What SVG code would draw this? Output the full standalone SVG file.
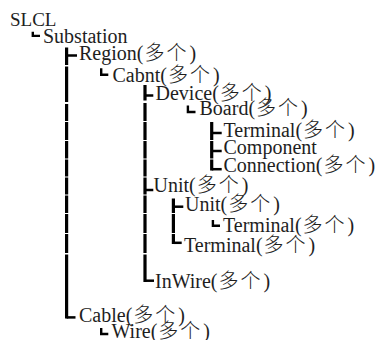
<svg xmlns="http://www.w3.org/2000/svg" width="380" height="340" viewBox="0 0 380 340">
<style>
  .bar { fill: none; stroke: #000; stroke-width: 3.2; }
  .tick { fill: none; stroke: #000; stroke-width: 2.5; }
  .elb { fill: none; stroke: #000; stroke-width: 2.4; stroke-linejoin: miter; }
</style>
<rect width="380" height="340" fill="#fff"/>
<g id="connectors">
  <path class="elb" d="M32.8 31.7 V35.9 H40"/>
  <path class="bar" d="M66.6 47.5 V65 M66.6 66.5 V102 M66.6 104 V121 M66.6 122 V140 M66.6 141 V158.5 M66.6 159.5 V176.5 M66.6 177.5 V194.5 M66.6 195.5 V213 M66.6 214 V233 M66.6 234 V253 M66.6 254.5 V318.6"/>
  <path class="tick" d="M66.6 55.5 H77"/>
  <path class="tick" d="M66.6 317.4 H75.5"/>
  <path class="elb" d="M101.2 68.3 V74.8 H108.3"/>
  <path class="elb" d="M101.2 328 V334 H108.3"/>
  <path class="bar" d="M145 85 V100.5 M145 103 V121 M145 122 V140 M145 141 V158.5 M145 159.5 V176.5 M145 177.5 V194.5 M145 195.5 V213 M145 214 V233 M145 234 V253 M145 254.5 V282"/>
  <path class="tick" d="M145 95.5 H153.3"/>
  <path class="tick" d="M145 190 H153.3"/>
  <path class="tick" d="M145 280.7 H154"/>
  <path class="elb" d="M187.9 105.5 V112 H195.5"/>
  <path class="bar" d="M211.7 122 V140 M211.7 141 V158.5 M211.7 159.5 V170.5"/>
  <path class="tick" d="M211.7 133 H221.7"/>
  <path class="tick" d="M211.7 151 H221.7"/>
  <path class="tick" d="M211.7 169.2 H221.7"/>
  <path class="bar" d="M173.4 198.5 V213 M173.4 214 V233 M173.4 234 V244"/>
  <path class="tick" d="M173.4 206.7 H183.3"/>
  <path class="tick" d="M173.4 242.8 H181.7"/>
  <path class="elb" d="M212.9 220 V225.8 H220"/>
</g>
<g id="n-slcl"><text style="font-family: 'Liberation Serif', serif; font-size: 19px; fill: #1e1e1e" x="10" y="25.5">SLCL</text></g>
<g id="n-substation"><text style="font-family: 'Liberation Serif', serif; font-size: 20px; fill: #1e1e1e" x="43" y="43.3">Substation</text></g>
<g id="n-region"><text style="font-family: 'Liberation Serif', serif; font-size: 20px; fill: #1e1e1e" x="79" y="60">Region(<tspan style="font-family: 'Noto Sans CJK SC', sans-serif; font-weight: 300" dx="1">多</tspan><tspan style="font-family: 'Noto Sans CJK SC', sans-serif; font-weight: 300" dx="2">个</tspan><tspan dx="3">)</tspan></text></g>
<g id="n-cabnt"><text style="font-family: 'Liberation Serif', serif; font-size: 20px; fill: #1e1e1e" x="112.5" y="81.5">Cabnt(<tspan style="font-family: 'Noto Sans CJK SC', sans-serif; font-weight: 300" dx="1">多</tspan><tspan style="font-family: 'Noto Sans CJK SC', sans-serif; font-weight: 300" dx="2">个</tspan><tspan dx="3">)</tspan></text></g>
<g id="n-device"><text style="font-family: 'Liberation Serif', serif; font-size: 20px; fill: #1e1e1e" x="155.5" y="99.5">Device(<tspan style="font-family: 'Noto Sans CJK SC', sans-serif; font-weight: 300" dx="1">多</tspan><tspan style="font-family: 'Noto Sans CJK SC', sans-serif; font-weight: 300" dx="2">个</tspan><tspan dx="3">)</tspan></text></g>
<g id="n-board"><text style="font-family: 'Liberation Serif', serif; font-size: 20px; fill: #1e1e1e" x="199.5" y="115">Board(<tspan style="font-family: 'Noto Sans CJK SC', sans-serif; font-weight: 300" dx="1">多</tspan><tspan style="font-family: 'Noto Sans CJK SC', sans-serif; font-weight: 300" dx="2">个</tspan><tspan dx="3">)</tspan></text></g>
<g id="n-terminal1"><text style="font-family: 'Liberation Serif', serif; font-size: 20px; fill: #1e1e1e" x="223.5" y="136.5">Terminal(<tspan style="font-family: 'Noto Sans CJK SC', sans-serif; font-weight: 300" dx="1">多</tspan><tspan style="font-family: 'Noto Sans CJK SC', sans-serif; font-weight: 300" dx="2">个</tspan><tspan dx="3">)</tspan></text></g>
<g id="n-component"><text style="font-family: 'Liberation Serif', serif; font-size: 20px; fill: #1e1e1e" x="223.5" y="154">Component</text></g>
<g id="n-connection"><text style="font-family: 'Liberation Serif', serif; font-size: 20px; fill: #1e1e1e" x="223.5" y="172">Connection(<tspan style="font-family: 'Noto Sans CJK SC', sans-serif; font-weight: 300" dx="1">多</tspan><tspan style="font-family: 'Noto Sans CJK SC', sans-serif; font-weight: 300" dx="2">个</tspan><tspan dx="3">)</tspan></text></g>
<g id="n-unit1"><text style="font-family: 'Liberation Serif', serif; font-size: 20px; fill: #1e1e1e" x="153.5" y="191.5">Unit(<tspan style="font-family: 'Noto Sans CJK SC', sans-serif; font-weight: 300" dx="1">多</tspan><tspan style="font-family: 'Noto Sans CJK SC', sans-serif; font-weight: 300" dx="2">个</tspan><tspan dx="3">)</tspan></text></g>
<g id="n-unit2"><text style="font-family: 'Liberation Serif', serif; font-size: 20px; fill: #1e1e1e" x="185" y="210.5">Unit(<tspan style="font-family: 'Noto Sans CJK SC', sans-serif; font-weight: 300" dx="1">多</tspan><tspan style="font-family: 'Noto Sans CJK SC', sans-serif; font-weight: 300" dx="2">个</tspan><tspan dx="3">)</tspan></text></g>
<g id="n-terminal2"><text style="font-family: 'Liberation Serif', serif; font-size: 20px; fill: #1e1e1e" x="223" y="231.5">Terminal(<tspan style="font-family: 'Noto Sans CJK SC', sans-serif; font-weight: 300" dx="1">多</tspan><tspan style="font-family: 'Noto Sans CJK SC', sans-serif; font-weight: 300" dx="2">个</tspan><tspan dx="3">)</tspan></text></g>
<g id="n-terminal3"><text style="font-family: 'Liberation Serif', serif; font-size: 20px; fill: #1e1e1e" x="184" y="252">Terminal(<tspan style="font-family: 'Noto Sans CJK SC', sans-serif; font-weight: 300" dx="1">多</tspan><tspan style="font-family: 'Noto Sans CJK SC', sans-serif; font-weight: 300" dx="2">个</tspan><tspan dx="3">)</tspan></text></g>
<g id="n-inwire"><text style="font-family: 'Liberation Serif', serif; font-size: 20px; fill: #1e1e1e" x="155" y="288">InWire(<tspan style="font-family: 'Noto Sans CJK SC', sans-serif; font-weight: 300" dx="1">多</tspan><tspan style="font-family: 'Noto Sans CJK SC', sans-serif; font-weight: 300" dx="2">个</tspan><tspan dx="3">)</tspan></text></g>
<g id="n-cable"><text style="font-family: 'Liberation Serif', serif; font-size: 20px; fill: #1e1e1e" x="79" y="321.5">Cable(<tspan style="font-family: 'Noto Sans CJK SC', sans-serif; font-weight: 300" dx="1">多</tspan><tspan style="font-family: 'Noto Sans CJK SC', sans-serif; font-weight: 300" dx="2">个</tspan><tspan dx="3">)</tspan></text></g>
<g id="n-wire"><text style="font-family: 'Liberation Serif', serif; font-size: 20px; fill: #1e1e1e" x="111.5" y="338">Wire(<tspan style="font-family: 'Noto Sans CJK SC', sans-serif; font-weight: 300" dx="1">多</tspan><tspan style="font-family: 'Noto Sans CJK SC', sans-serif; font-weight: 300" dx="2">个</tspan><tspan dx="3">)</tspan></text></g>
</svg>
